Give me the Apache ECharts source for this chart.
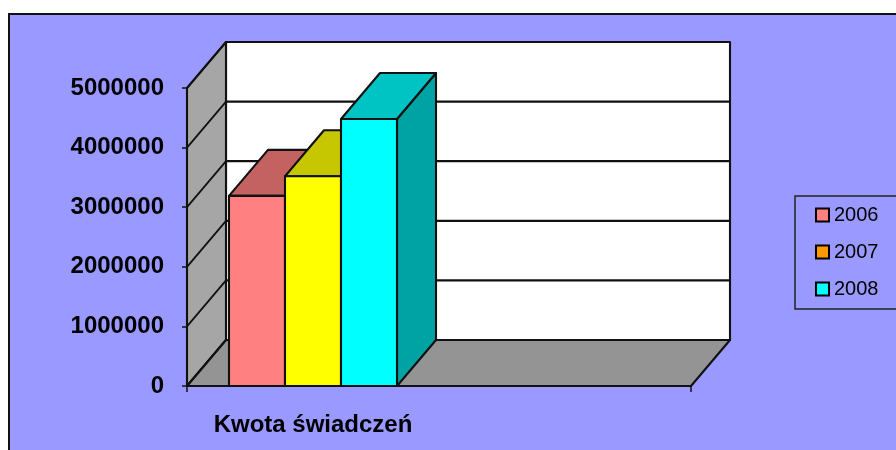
<!DOCTYPE html>
<html><head><meta charset="utf-8">
<script src="https://cdn.jsdelivr.net/npm/echarts@6/dist/echarts.min.js"></script>
<style>html,body{margin:0;padding:0;background:#fff}#c{width:896px;height:450px}</style>
</head><body><div id="c"></div>
<script>
// ---- data ----
const categories = ['Kwota świadczeń', ''];
const seriesNames = ['2006', '2007', '2008'];
const values2006 = [3190000];
const values2007 = [3520000];
const values2008 = [4480000];
const yTicks = [0, 1000000, 2000000, 3000000, 4000000, 5000000];
const yTickLabels = ['0', '1000000', '2000000', '3000000', '4000000', '5000000'];

// ---- styles ----
const faceColors = [
  { front: '#FF8080', top: '#C46262', side: '#A35252' },
  { front: '#FFFF00', top: '#C7C700', side: '#A3A300' },
  { front: '#00FFFF', top: '#00C4C4', side: '#00A3A3' }
];
const legendColors = ['#FF8080', '#FF9900', '#00FFFF'];
const DEPTH = [39, -46];
const FONT = "'Liberation Sans', Arial, sans-serif";
const EDGE = { stroke: '#111', lineWidth: 2.1, lineJoin: 'round' };

function plotBox(api) {
  const band = api.size([1, 0])[0];
  const xl = api.coord([0, 0])[0] - band / 2;
  const xr = api.coord([categories.length - 1, 0])[0] + band / 2;
  const y0 = api.coord([0, yTicks[0]])[1];
  const yTop = api.coord([0, yTicks[yTicks.length - 1]])[1];
  return { band, xl, xr, y0, yTop };
}

function wallRender(params, api) {
  const b = plotBox(api);
  const dx = DEPTH[0], dy = DEPTH[1];
  return {
    type: 'group',
    children: [
      { type: 'polygon', shape: { points: [[b.xl + dx, b.yTop + dy], [b.xr + dx, b.yTop + dy], [b.xr + dx, b.y0 + dy], [b.xl + dx, b.y0 + dy]] },
        style: Object.assign({}, EDGE, { fill: '#FFFFFF' }) },
      { type: 'polygon', shape: { points: [[b.xl, b.y0], [b.xl, b.yTop], [b.xl + dx, b.yTop + dy], [b.xl + dx, b.y0 + dy]] },
        style: Object.assign({}, EDGE, { fill: '#A6A6A6' }) },
      { type: 'polygon', shape: { points: [[b.xl, b.y0], [b.xr, b.y0], [b.xr + dx, b.y0 + dy], [b.xl + dx, b.y0 + dy]] },
        style: Object.assign({}, EDGE, { fill: '#949494' }) }
    ]
  };
}

function gridRender(params, api) {
  const b = plotBox(api);
  const dx = DEPTH[0], dy = DEPTH[1];
  const y = api.coord([0, api.value(1)])[1];
  return {
    type: 'group',
    children: [
      { type: 'line', shape: { x1: b.xl, y1: y, x2: b.xl + dx, y2: y + dy }, style: { stroke: '#111', lineWidth: 1.8 } },
      { type: 'line', shape: { x1: b.xl + dx, y1: y + dy, x2: b.xr + dx, y2: y + dy }, style: { stroke: '#111', lineWidth: 2.2 } }
    ]
  };
}

function barRender(si) {
  return function (params, api) {
    const cat = api.value(0), v = api.value(1);
    const c = api.coord([cat, v]);
    const c0 = api.coord([cat, 0]);
    const band = api.size([1, 0])[0];
    const bw = band / 4.5;
    const x0 = c[0] - 1.5 * bw + si * bw, x1 = x0 + bw;
    const yt = c[1], yb = c0[1];
    const dx = DEPTH[0], dy = DEPTH[1];
    const col = faceColors[si];
    return {
      type: 'group',
      children: [
        { type: 'polygon', shape: { points: [[x1, yt], [x1 + dx, yt + dy], [x1 + dx, yb + dy], [x1, yb]] },
          style: Object.assign({}, EDGE, { fill: col.side }) },
        { type: 'polygon', shape: { points: [[x0, yt], [x1, yt], [x1 + dx, yt + dy], [x0 + dx, yt + dy]] },
          style: Object.assign({}, EDGE, { fill: col.top }) },
        { type: 'rect', shape: { x: x0, y: yt, width: bw, height: yb - yt },
          style: Object.assign({}, EDGE, { fill: col.front }) }
      ]
    };
  };
}

const seriesValues = [values2006, values2007, values2008];

const chart = echarts.init(document.getElementById('c'), null, { renderer: 'canvas' });
chart.setOption({
  backgroundColor: '#FFFFFF',
  animation: false,
  graphic: [{
    type: 'rect', silent: true, z: -10,
    shape: { x: 9, y: 14, width: 900, height: 450 },
    style: { fill: '#9999FF', stroke: '#111', lineWidth: 2 }
  }],
  grid: { left: 187, right: 205, top: 88, bottom: 64, containLabel: false },
  xAxis: {
    type: 'category', data: categories, boundaryGap: true, z: 5,
    axisLine: { show: true, lineStyle: { color: '#111', width: 2 } },
    axisTick: { show: true, length: 6, lineStyle: { color: '#111', width: 1.5 } },
    axisLabel: { color: '#000', fontSize: 24, fontWeight: 'bold', fontFamily: FONT, margin: 27 },
    splitLine: { show: false }
  },
  yAxis: {
    type: 'value', min: 0, max: 5000000, interval: 1000000, z: 5,
    axisLine: { show: true, lineStyle: { color: '#111', width: 2 } },
    axisTick: { show: true, length: 5, lineStyle: { color: '#111', width: 1.5 } },
    axisLabel: { color: '#000', fontSize: 24, fontWeight: 'bold', fontFamily: FONT, margin: 23,
      formatter: function (v, i) { return yTickLabels[i]; } },
    splitLine: { show: false }
  },
  legend: {
    orient: 'vertical', left: 795, top: 196, padding: [9, 60, 10, 20], itemGap: 17,
    itemWidth: 13, itemHeight: 13, icon: 'rect', selectedMode: false,
    borderColor: '#222', borderWidth: 1.5,
    textStyle: { fontSize: 20, fontFamily: FONT, color: '#000', lineHeight: 20 },
    data: seriesNames.map(function (n, i) {
      return { name: n, itemStyle: { color: legendColors[i], borderColor: '#000', borderWidth: 2 } };
    })
  },
  series: [
    { type: 'custom', name: 'walls', z: 1, clip: false, silent: true, renderItem: wallRender, data: [[0, 0]] },
    { type: 'custom', name: 'grid', z: 1, clip: false, silent: true, renderItem: gridRender,
      data: yTicks.map(function (v) { return [0, v]; }) }
  ].concat(seriesNames.map(function (n, si) {
    return {
      type: 'custom', name: n, z: 2, clip: false, renderItem: barRender(si),
      itemStyle: { color: legendColors[si] },
      data: seriesValues[si].map(function (v, ci) { return [ci, v]; })
    };
  }))
});
</script>
</body></html>
